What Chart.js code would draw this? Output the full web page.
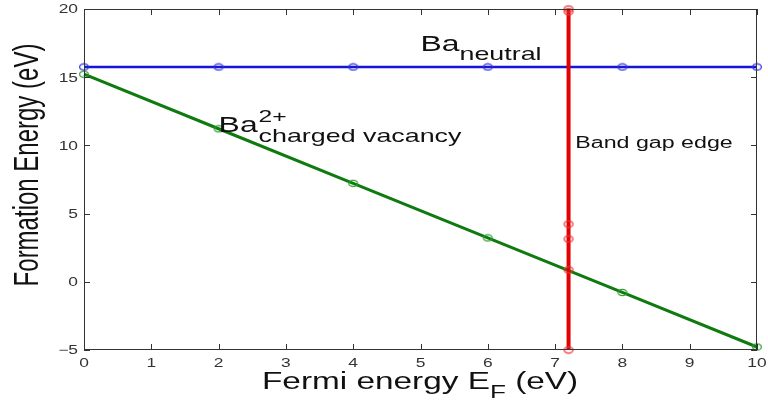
<!DOCTYPE html>
<html lang="en">
<head>
    <meta charset="UTF-8" />
    <title>Formation energy vs Fermi energy</title>
    <script src="https://cdn.jsdelivr.net/npm/chart.js"></script>
    <style>
        html, body { margin: 0; padding: 0; background: #fff; }
        #wrap { width: 768px; height: 403px; }
    </style>
</head>
<body>
    <div id="wrap"><canvas id="chart"></canvas></div>
    <script>
        // data
        const fermiX = [0, 2, 4, 6, 8, 10];
        const neutralE = [15.75, 15.75, 15.75, 15.75, 15.75, 15.75];
        const vacancyE = [15.22, 11.22, 7.22, 3.22, -0.78, -4.78];
        const gapX = [7.2, 7.2, 7.2, 7.2, 7.2, 7.2];
        const gapE = [-5, 0.87, 3.14, 4.23, 19.8, 20];
        const xTicks = [0, 1, 2, 3, 4, 5, 6, 7, 8, 9, 10];
        const yTicks = [-5, 0, 5, 10, 15, 20];

        const SX = 1.45; // the original figure is stretched sideways

        function ellipse(color) {
            const c = document.createElement('canvas');
            c.width = 12; c.height = 9;
            const g = c.getContext('2d');
            g.strokeStyle = color;
            g.lineWidth = 1.2;
            g.beginPath();
            g.ellipse(6, 4.5, 4.4, 3.1, 0, 0, Math.PI * 2);
            g.stroke();
            return c;
        }

        function pts(xs, ys) {
            return xs.map((x, i) => ({ x: x, y: ys[i] }));
        }

        // draws text stretched in x
        function wideText(ctx, txt, x, y, font, align, base) {
            ctx.save();
            ctx.translate(x, y);
            ctx.scale(SX, 1);
            ctx.font = font;
            ctx.textAlign = align || 'left';
            ctx.textBaseline = base || 'alphabetic';
            ctx.fillText(txt, 0, 0);
            const w = ctx.measureText(txt).width * SX;
            ctx.restore();
            return w;
        }

        const F = "'Liberation Sans', Arial, sans-serif";

        const framePlugin = {
            id: 'frame',
            afterDraw(chart) {
                const ctx = chart.ctx;
                const a = chart.chartArea;
                const xs = chart.scales.x, ys = chart.scales.y;
                ctx.save();
                // box
                ctx.strokeStyle = '#333';
                ctx.lineWidth = 1;
                ctx.strokeRect(a.left + 0.5, a.top + 0.5, a.right - a.left - 1, a.bottom - a.top - 1);
                // inner ticks
                ctx.beginPath();
                xTicks.forEach(v => {
                    const p = Math.round(xs.getPixelForValue(v)) + 0.5;
                    ctx.moveTo(p, a.bottom); ctx.lineTo(p, a.bottom - 6);
                    ctx.moveTo(p, a.top); ctx.lineTo(p, a.top + 6);
                });
                yTicks.forEach(v => {
                    const p = Math.round(ys.getPixelForValue(v)) + 0.5;
                    ctx.moveTo(a.left, p); ctx.lineTo(a.left + 6, p);
                    ctx.moveTo(a.right, p); ctx.lineTo(a.right - 6, p);
                });
                ctx.stroke();

                // tick labels
                ctx.fillStyle = '#333';
                xTicks.forEach(v => {
                    wideText(ctx, String(v), xs.getPixelForValue(v), a.bottom + 14, '12px ' + F, 'center', 'middle');
                });
                yTicks.forEach(v => {
                    const t = v < 0 ? '\u2212' + Math.abs(v) : String(v);
                    wideText(ctx, t, a.left - 6, ys.getPixelForValue(v) + 1, '12px ' + F, 'right', 'middle');
                });

                // axis titles
                ctx.fillStyle = '#111';
                let x0 = 262, by = 389;
                x0 += wideText(ctx, 'Fermi energy E', x0, by, '23px ' + F);
                x0 += wideText(ctx, 'F', x0, by + 9, '18px ' + F);
                wideText(ctx, ' (eV)', x0, by, '23px ' + F);

                ctx.save();
                ctx.translate(38, 165);
                ctx.scale(SX, 1);
                ctx.rotate(-Math.PI / 2);
                ctx.font = '24px ' + F;
                ctx.textAlign = 'center';
                ctx.fillText('Formation Energy (eV)', 0, 0);
                ctx.restore();

                // annotations placed in data units
                let px = xs.getPixelForValue(5.0), py = ys.getPixelForValue(16.9);
                px += wideText(ctx, 'Ba', px, py, '22px ' + F);
                wideText(ctx, 'neutral', px, py + 9, '18.5px ' + F);

                px = xs.getPixelForValue(2.0); py = ys.getPixelForValue(11.0);
                const bw = wideText(ctx, 'Ba', px, py, '22px ' + F);
                wideText(ctx, '2+', px + bw + 1, py - 10, '17px ' + F);
                wideText(ctx, 'charged vacancy', px + bw + 1, py + 10, '18.5px ' + F);

                wideText(ctx, 'Band gap edge', xs.getPixelForValue(7.3), ys.getPixelForValue(9.8), '16px ' + F);
                ctx.restore();
            }
        };

        new Chart(document.getElementById('chart'), {
            type: 'scatter',
            data: {
                datasets: [
                    {
                        label: 'Band gap edge',
                        data: pts(gapX, gapE),
                        showLine: true,
                        borderColor: '#e30000',
                        borderWidth: 4,
                        pointStyle: ellipse('#ee2f2f'),
                        pointRadius: 5,
                        clip: 12,
                        order: 0
                    },
                    {
                        label: 'Ba charged vacancy',
                        data: pts(fermiX, vacancyE),
                        showLine: true,
                        borderColor: '#0f7a0f',
                        borderWidth: 3,
                        pointStyle: ellipse('#2f9f2f'),
                        pointRadius: 5,
                        clip: 12,
                        order: 1
                    },
                    {
                        label: 'Ba neutral',
                        data: pts(fermiX, neutralE),
                        showLine: true,
                        borderColor: '#1515d6',
                        borderWidth: 2.5,
                        pointStyle: ellipse('#2f2fe6'),
                        pointRadius: 5,
                        clip: 12,
                        order: 2
                    }
                ]
            },
            options: {
                responsive: true,
                maintainAspectRatio: false,
                animation: false,
                layout: { padding: { left: 84, right: 11, top: 8, bottom: 53 } },
                plugins: {
                    legend: { display: false },
                    tooltip: { enabled: false }
                },
                scales: {
                    x: { type: 'linear', min: 0, max: 10, display: false },
                    y: { type: 'linear', min: -5, max: 20, display: false }
                }
            },
            plugins: [framePlugin]
        });
    </script>
</body>
</html>
